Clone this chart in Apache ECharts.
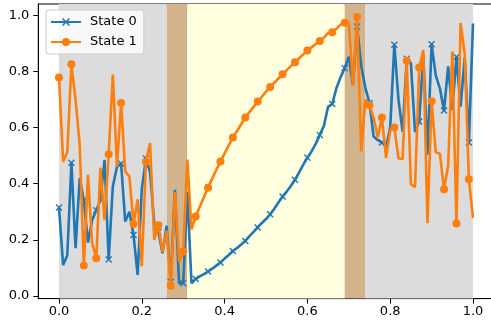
<!DOCTYPE html>
<html>
<head>
<meta charset="utf-8">
<script src="https://cdn.jsdelivr.net/npm/echarts@6/dist/echarts.min.js"></script>
<style>html,body{margin:0;padding:0;background:#fff}#chart{width:491px;height:326px}</style>
</head>
<body>
<div id="chart"></div>
<script>
// sample positions
const xs = [0, 0.01, 0.02, 0.03, 0.04, 0.05, 0.06, 0.07, 0.08, 0.09,
  0.1, 0.11, 0.12, 0.13, 0.14, 0.15, 0.16, 0.17, 0.18, 0.19,
  0.2, 0.21, 0.22, 0.23, 0.24, 0.25, 0.26, 0.27, 0.28, 0.29,
  0.3, 0.31, 0.32, 0.33, 0.34, 0.35, 0.36, 0.37, 0.38, 0.39,
  0.4, 0.41, 0.42, 0.43, 0.44, 0.45, 0.46, 0.47, 0.48, 0.49,
  0.5, 0.51, 0.52, 0.53, 0.54, 0.55, 0.56, 0.57, 0.58, 0.59,
  0.6, 0.61, 0.62, 0.63, 0.64, 0.65, 0.66, 0.67, 0.68, 0.69,
  0.7, 0.71, 0.72, 0.73, 0.74, 0.75, 0.76, 0.77, 0.78, 0.79,
  0.8, 0.81, 0.82, 0.83, 0.84, 0.85, 0.86, 0.87, 0.88, 0.89,
  0.9, 0.91, 0.92, 0.93, 0.94, 0.95, 0.96, 0.97, 0.98, 0.99, 1.0];

const state0 = [0.315, 0.11, 0.145, 0.475, 0.17, 0.42, 0.34, 0.19, 0.27, 0.305,
  0.34, 0.485, 0.13, 0.39, 0.46, 0.472, 0.265, 0.30, 0.217, 0.075,
  0.38, 0.49, 0.44, 0.26, 0.228, 0.152, 0.25, 0.05, 0.378, 0.045,
  0.045, 0.37, 0.045, 0.061, 0.07, 0.078, 0.087, 0.097, 0.108, 0.119,
  0.133, 0.146, 0.16, 0.171, 0.183, 0.196, 0.213, 0.228, 0.244, 0.26,
  0.274, 0.291, 0.311, 0.333, 0.354, 0.372, 0.392, 0.414, 0.44, 0.468,
  0.493, 0.515, 0.542, 0.574, 0.607, 0.675, 0.684, 0.74, 0.779, 0.812,
  0.853, 0.752, 0.96, 0.82, 0.742, 0.687, 0.568, 0.555, 0.547, 0.532,
  0.60, 0.895, 0.70, 0.585, 0.845, 0.83, 0.584, 0.622, 0.86, 0.503,
  0.897, 0.786, 0.74, 0.661, 0.818, 0.663, 0.852, 0.675, 0.85, 0.547, 0.971];

const state1 = [0.779, 0.478, 0.512, 0.826, 0.70, 0.54, 0.108, 0.432, 0.189, 0.134,
  0.457, 0.271, 0.505, 0.789, 0.46, 0.688, 0.443, 0.426, 0.256, 0.344,
  0.106, 0.478, 0.545, 0.20, 0.252, 0.156, 0.233, 0.036, 0.37, 0.12,
  0.158, 0.486, 0.237, 0.283, 0.318, 0.352, 0.386, 0.418, 0.45, 0.479,
  0.508, 0.537, 0.565, 0.588, 0.612, 0.636, 0.655, 0.674, 0.693, 0.71,
  0.728, 0.745, 0.76, 0.775, 0.79, 0.805, 0.819, 0.833, 0.847, 0.861,
  0.875, 0.886, 0.898, 0.909, 0.921, 0.937, 0.94, 0.952, 0.967, 0.974,
  0.975, 0.75, 0.994, 0.515, 0.70, 0.68, 0.634, 0.565, 0.636, 0.491,
  0.59, 0.60, 0.49, 0.488, 0.838, 0.398, 0.388, 0.814, 0.877, 0.259,
  0.694, 0.512, 0.507, 0.38, 0.465, 0.871, 0.258, 0.973, 0.862, 0.416, 0.278];

// shaded regimes along x
const regimeEdges = [0, 0.26, 0.31, 0.69, 0.74, 1.0];
const regimeKinds = ['state0', 'switch', 'state1', 'switch', 'state0'];
const xTicks = [0, 0.2, 0.4, 0.6, 0.8, 1.0];
const yTicks = [0, 0.2, 0.4, 0.6, 0.8, 1.0];

const regimeColor = { state0: '#dcdcdc', switch: '#d2b48c', state1: '#ffffe0' };
const xMark = 'path://M1.4,0 L5,3.6 L8.6,0 L10,1.4 L6.4,5 L10,8.6 L8.6,10 L5,6.4 L1.4,10 L0,8.6 L3.6,5 L0,1.4 Z';
const font = 'DejaVu Sans';

let myChart = echarts.init(document.getElementById('chart'));

const axisCommon = {
  type: 'value',
  splitLine: { show: false },
  axisLine: { show: true, onZero: false, lineStyle: { color: '#000', width: 1 } },
  axisTick: { show: true, inside: false, length: 5, lineStyle: { color: '#000', width: 1 } },
};

let option = {
  animation: false,
  backgroundColor: '#fff',
  grid: {
    left: 38.3, top: 4, width: 455.4, height: 294.6,
    outerBoundsMode: 'none',
    containLabel: false,
    show: true, borderColor: '#000', borderWidth: 1, backgroundColor: 'transparent',
  },
  legend: {
    data: ['State 0', 'State 1'],
    orient: 'vertical',
    left: 46, top: 10,
    itemWidth: 30, itemHeight: 10, itemGap: 4,
    padding: [4, 7, 4, 4],
    backgroundColor: 'rgba(255,255,255,0.8)',
    borderColor: '#cccccc', borderWidth: 1, borderRadius: 3,
    textStyle: { fontSize: 13, fontFamily: font, color: '#000', lineHeight: 16, padding: [0, 0, 0, 4] },
  },
  xAxis: Object.assign({}, axisCommon, {
    min: -0.05, max: 1.05,
    axisTick: Object.assign({}, axisCommon.axisTick, { customValues: xTicks }),
    axisLabel: { customValues: xTicks, formatter: v => v.toFixed(1), fontSize: 13, fontFamily: font, color: '#000', margin: 7 },
  }),
  yAxis: Object.assign({}, axisCommon, {
    min: -0.0096, max: 1.0406,
    axisTick: Object.assign({}, axisCommon.axisTick, { customValues: yTicks }),
    axisLabel: { customValues: yTicks, formatter: v => v.toFixed(1), fontSize: 13, fontFamily: font, color: '#000', margin: 9 },
  }),
  series: [
    {
      name: 'regimes',
      type: 'line',
      data: [],
      silent: true,
      z: 1,
      markArea: {
        silent: true,
        data: regimeKinds.map((k, i) => [
          { xAxis: regimeEdges[i], itemStyle: { color: regimeColor[k], opacity: 1 } },
          { xAxis: regimeEdges[i + 1] },
        ]),
      },
    },
    {
      name: 'State 0',
      type: 'line',
      z: 3,
      data: xs.map((x, i) => [x, state0[i]]),
      showAllSymbol: true,
      symbol: xMark,
      symbolSize: (v, p) => (p.dataIndex % 3 === 0 ? 7 : 0),
      itemStyle: { color: '#1f77b4' },
      lineStyle: { color: '#1f77b4', width: 2.6 },
    },
    {
      name: 'State 1',
      type: 'line',
      z: 4,
      data: xs.map((x, i) => [x, state1[i]]),
      showAllSymbol: true,
      symbol: 'circle',
      symbolSize: (v, p) => (p.dataIndex % 3 === 0 ? 8 : 0),
      itemStyle: { color: '#ff7f0e' },
      lineStyle: { color: '#ff7f0e', width: 2.6 },
    },
  ],
};
myChart.setOption(option);
</script>
</body>
</html>
